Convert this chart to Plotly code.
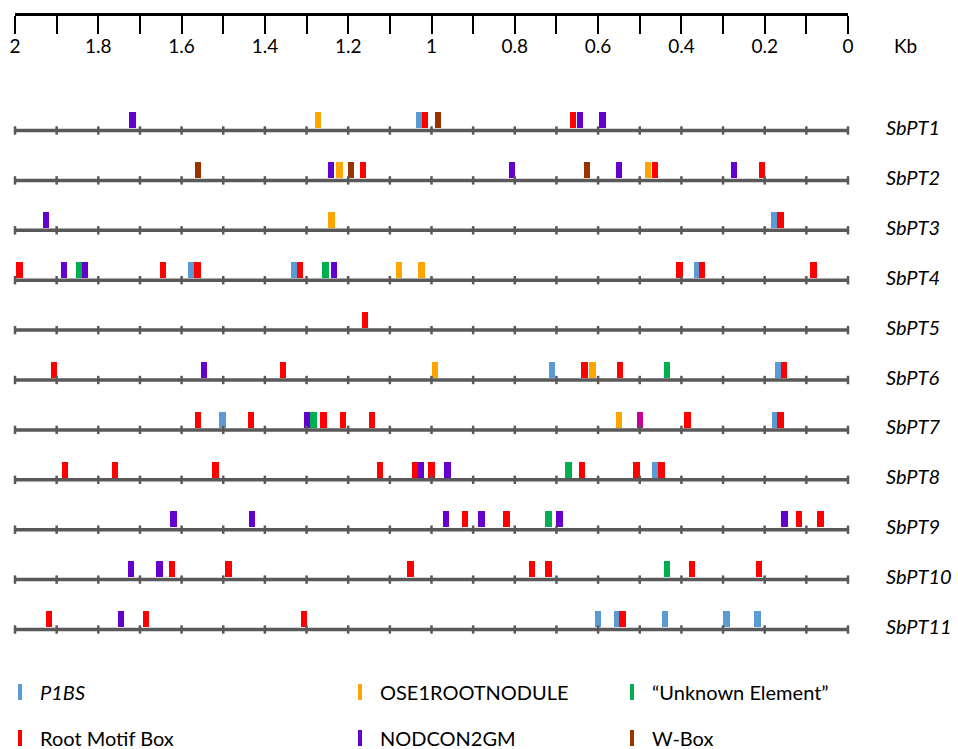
import plotly.graph_objects as go

# ---------------- data ----------------
genes = ["SbPT1", "SbPT2", "SbPT3", "SbPT4", "SbPT5", "SbPT6",
         "SbPT7", "SbPT8", "SbPT9", "SbPT10", "SbPT11"]

axis_ticks = [2.0, 1.9, 1.8, 1.7, 1.6, 1.5, 1.4, 1.3, 1.2, 1.1, 1.0,
              0.9, 0.8, 0.7, 0.6, 0.5, 0.4, 0.3, 0.2, 0.1, 0.0]
axis_labels = ["2", "", "1.8", "", "1.6", "", "1.4", "", "1.2", "", "1",
               "", "0.8", "", "0.6", "", "0.4", "", "0.2", "", "0"]

# P1BS
p1bs_gene = ["SbPT1", "SbPT3", "SbPT4", "SbPT4", "SbPT4", "SbPT6", "SbPT6",
             "SbPT7", "SbPT7", "SbPT8", "SbPT11", "SbPT11", "SbPT11", "SbPT11", "SbPT11"]
p1bs_pos = [1.030, 0.176, 1.577, 1.329, 0.363, 0.711, 0.167,
            1.502, 0.175, 0.463, 0.600, 0.555, 0.440, 0.292, 0.217]

# Root Motif Box
root_gene = ["SbPT1", "SbPT1",
             "SbPT2", "SbPT2", "SbPT2",
             "SbPT3",
             "SbPT4", "SbPT4", "SbPT4", "SbPT4", "SbPT4", "SbPT4", "SbPT4",
             "SbPT5",
             "SbPT6", "SbPT6", "SbPT6", "SbPT6", "SbPT6",
             "SbPT7", "SbPT7", "SbPT7", "SbPT7", "SbPT7", "SbPT7", "SbPT7",
             "SbPT8", "SbPT8", "SbPT8", "SbPT8", "SbPT8", "SbPT8", "SbPT8", "SbPT8", "SbPT8",
             "SbPT9", "SbPT9", "SbPT9", "SbPT9",
             "SbPT10", "SbPT10", "SbPT10", "SbPT10", "SbPT10", "SbPT10", "SbPT10",
             "SbPT11", "SbPT11", "SbPT11", "SbPT11"]
root_pos = [1.016, 0.660,
            1.165, 0.463, 0.206,
            0.162,
            1.989, 1.645, 1.562, 1.316, 0.405, 0.351, 0.083,
            1.160,
            1.907, 1.357, 0.633, 0.548, 0.154,
            1.561, 1.433, 1.259, 1.212, 1.143, 0.385, 0.162,
            1.880, 1.760, 1.519, 1.124, 1.040, 1.000, 0.639, 0.508, 0.448,
            0.920, 0.820, 0.118, 0.066,
            1.623, 1.487, 1.050, 0.759, 0.719, 0.375, 0.214,
            1.919, 1.685, 1.306, 0.541]

# OSE1ROOTNODULE
ose_gene = ["SbPT1", "SbPT2", "SbPT2", "SbPT3", "SbPT4", "SbPT4", "SbPT6", "SbPT6", "SbPT7"]
ose_pos = [1.273, 1.221, 0.480, 1.240, 1.078, 1.024, 0.991, 0.614, 0.550]

# NODCON2GM
nod_gene = ["SbPT1", "SbPT1", "SbPT1",
            "SbPT2", "SbPT2", "SbPT2", "SbPT2",
            "SbPT3",
            "SbPT4", "SbPT4", "SbPT4",
            "SbPT6", "SbPT7", "SbPT8", "SbPT8",
            "SbPT9", "SbPT9", "SbPT9", "SbPT9", "SbPT9", "SbPT9",
            "SbPT10", "SbPT10", "SbPT11"]
nod_pos = [1.718, 0.644, 0.589,
           1.241, 0.807, 0.550, 0.274,
           1.926,
           1.882, 1.832, 1.234,
           1.546, 1.299, 1.026, 0.962,
           1.619, 1.431, 0.965, 0.880, 0.693, 0.153,
           1.722, 1.653, 1.746]

# "Unknown Element"
unk_gene = ["SbPT4", "SbPT4", "SbPT6", "SbPT7", "SbPT8", "SbPT9", "SbPT10"]
unk_pos = [1.846, 1.255, 0.435, 1.283, 0.671, 0.719, 0.434]

# W-Box
wbox_gene = ["SbPT1", "SbPT2", "SbPT2", "SbPT2"]
wbox_pos = [0.985, 1.561, 1.193, 0.627]

# unlabelled (magenta) element
other_gene = ["SbPT7"]
other_pos = [0.500]

# ---------------- styling ----------------
W, H = 958, 749
ML, MR = 15, 110
FONT = "Lato"
LINE_GREY = "#595959"

motifs = [
    ("P1BS", p1bs_gene, p1bs_pos, "#5B9BD5"),
    ("OSE1ROOTNODULE", ose_gene, ose_pos, "#FFA500"),
    ("NODCON2GM", nod_gene, nod_pos, "#6600CC"),
    ("W-Box", wbox_gene, wbox_pos, "#993300"),
    ("Unknown Element", unk_gene, unk_pos, "#00B050"),
    ("Other", other_gene, other_pos, "#CC0099"),
    ("Root Motif Box", root_gene, root_pos, "#FF0000"),
]


def px_x(p):
    return (p - ML) / (W - ML - MR)


def px_y(p):
    return 1 - p / H


row_px0, row_step = 130.5, 49.9
y_top = 1 - row_px0 / row_step
y_bot = 1 + (H - row_px0) / row_step

fig = go.Figure()

# gene lines with 0.1 kb ticks
for i, g in enumerate(genes):
    r = i + 1
    fig.add_trace(go.Scatter(
        x=axis_ticks, y=[r] * len(axis_ticks), mode="lines+markers",
        line=dict(color=LINE_GREY, width=3.5),
        marker=dict(symbol="line-ns", size=6, line=dict(color=LINE_GREY, width=2.5)),
        cliponaxis=False, showlegend=False, hoverinfo="skip"))

# motif boxes
BAR_H = 0.32
BAR_GAP = 0.045
for name, gl, pl, col in motifs:
    rows = [genes.index(g) + 1 for g in gl]
    fig.add_trace(go.Bar(
        x=pl, y=[-BAR_H] * len(pl), base=[r - BAR_GAP for r in rows],
        width=0.0155, marker=dict(color=col, line=dict(width=0)),
        name=name, showlegend=False))

annotations = []
for i, g in enumerate(genes):
    annotations.append(dict(
        x=px_x(884), xref="paper", y=i + 1 - 0.07, yref="y",
        text=f"<i>{g}</i>", showarrow=False, xanchor="left", yanchor="middle",
        font=dict(family=FONT, size=20, color="black")))

annotations.append(dict(x=px_x(905), xref="paper", y=px_y(45), yref="paper",
                        text="Kb", showarrow=False, xanchor="center", yanchor="middle",
                        font=dict(family=FONT, size=19, color="black")))

# manual legend
legend_items = [
    ("<i>P1BS</i>", "#5B9BD5", 20, 692),
    ("OSE1ROOTNODULE", "#FFA500", 360, 692),
    ("\u201cUnknown Element\u201d", "#00B050", 632, 692),
    ("Root Motif Box", "#FF0000", 20, 738),
    ("NODCON2GM", "#6600CC", 360, 738),
    ("W-Box", "#993300", 632, 738),
]
shapes = []
for txt, col, xp, yp in legend_items:
    shapes.append(dict(type="rect", xref="paper", yref="paper",
                       x0=px_x(xp - 2), x1=px_x(xp + 2), y0=px_y(yp + 8), y1=px_y(yp - 8),
                       fillcolor=col, line=dict(width=0)))
    annotations.append(dict(x=px_x(xp + 18), xref="paper", y=px_y(yp), yref="paper",
                            text=txt, showarrow=False, xanchor="left", yanchor="middle",
                            font=dict(family=FONT, size=20, color="black")))

fig.update_layout(
    width=W, height=H,
    margin=dict(l=ML, r=MR, t=0, b=0),
    paper_bgcolor="white", plot_bgcolor="white",
    barmode="overlay", bargap=0,
    showlegend=False,
    font=dict(family=FONT, size=19, color="black"),
    xaxis=dict(range=[2, 0], anchor="free", position=px_y(14), side="bottom",
               showline=True, linecolor="black", linewidth=3,
               ticks="outside", ticklen=18, tickwidth=2, tickcolor="black",
               tickmode="array", tickvals=axis_ticks, ticktext=axis_labels,
               tickfont=dict(family=FONT, size=19, color="black"),
               ticklabelstandoff=-4,
               showgrid=False, zeroline=False, fixedrange=True),
    yaxis=dict(range=[y_bot, y_top], showgrid=False, zeroline=False,
               showticklabels=False, showline=False, ticks="", fixedrange=True),
    annotations=annotations,
    shapes=shapes,
)

fig.write_html(
    "out.html",
    config={"displayModeBar": False},
    post_script="document.body.style.margin='0';document.body.style.padding='0';"
                "document.documentElement.style.overflow='hidden';",
)
